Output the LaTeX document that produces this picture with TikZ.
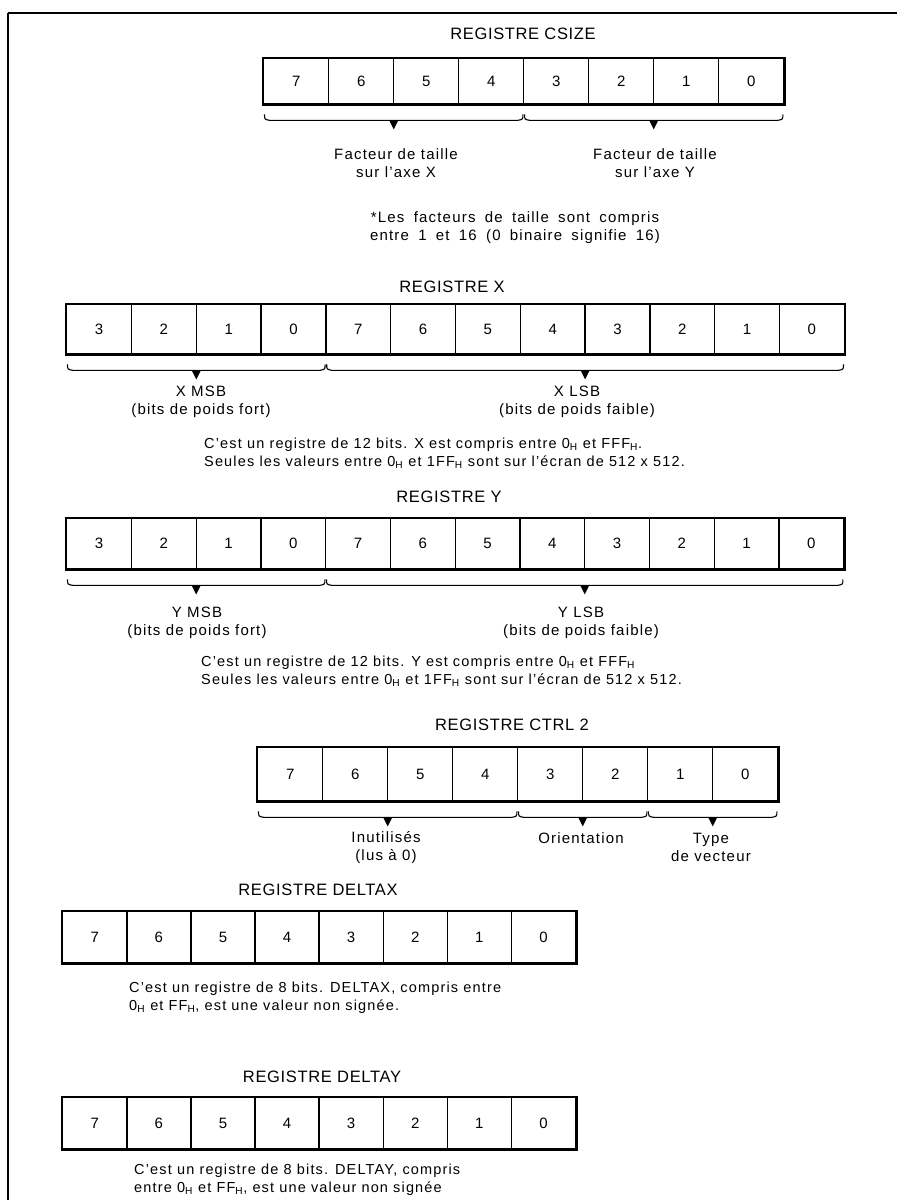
\documentclass[tikz,border=0pt]{standalone}
\usepackage{fontspec}
\setmainfont{Liberation Sans}[LetterSpace=8]
\newfontfamily\titlefont{Liberation Sans}[LetterSpace=4]
\usetikzlibrary{calc}
\newcommand\hx{\textsubscript{H}}
\newcommand\widespaces{\spaceskip=0.62em plus 0.1em\relax}
\newcommand\mkreg[6]{%
  \foreach \v [count=\k from 0] in {#6} {%
    \node[cell, minimum width=#4pt, minimum height=#5pt] (#1\k) at ({#2+\k*#4},{-#3}) {\v};
  }%
}
\newcommand\regbrace[3]{%
  \path ($(#1.south west)!0.5!(#2.south east)$) ++(0,-16) coordinate (#3);
  \draw[brline] ($(#1.south west)+(1.5,-10)$) .. controls ($(#1.south west)+(1.5,-15)$) .. ($(#1.south west)+(7,-16)$)
     -- ($(#2.south east)+(-7,-16)$) .. controls ($(#2.south east)+(-1.5,-15)$) .. ($(#2.south east)+(-1.5,-10)$);
  \fill ($(#3)+(-4.5,0)$) -- ($(#3)+(4.5,0)$) -- ($(#3)+(0,-9)$) -- cycle;
}
\begin{document}
\begin{tikzpicture}[x=1pt,y=1pt,
  cell/.style={draw, line width=1.4pt, inner sep=0pt, anchor=north west, font=\fontsize{15}{18}\selectfont},
  outer/.style={line width=2.8pt},
  brline/.style={line width=1.1pt},
  frame/.style={line width=1.6pt},
  regtitle/.style={font=\titlefont\fontsize{16.5}{19}\selectfont, inner sep=0pt},
  lbl/.style={font=\fontsize{15}{18}\selectfont, align=center, inner sep=0pt},
  note/.style={font=\fontsize{15}{18}\selectfont, align=center, inner sep=0pt},
  para/.style={font=\fontsize{14.5}{18}\selectfont, align=left, anchor=west, inner sep=0pt}]
\useasboundingbox (0,0) rectangle (897,-1200);
% frame
\coordinate (ftl) at (8,-13);
\coordinate (ftr) at (897,-13);
\coordinate (fbl) at (8,-1200);
\draw[frame] (fbl) -- (ftl);
\draw[line width=2.8pt] (ftl) -- (ftr);

% ---------------- CSIZE
\node[regtitle] (tcsize) at (523,-34) {REGISTRE CSIZE};
\mkreg{cs}{263}{58}{65}{45}{7,6,5,4,3,2,1,0}
\draw[outer] (cs0.north west) rectangle (cs7.south east);
\regbrace{cs0}{cs3}{csa}
\regbrace{cs4}{cs7}{csb}
\node[lbl] (lcsa) at (396,-163) {Facteur de taille\\sur l'axe X};
\node[lbl] (lcsb) at (655,-163) {Facteur de taille\\sur l'axe Y};
\node[note] (ncs) at (515,-228) {\widespaces *Les facteurs de taille sont compris\\\widespaces entre 1 et 16 (0 binaire signifie 16)};

% ---------------- X
\node[regtitle] (tx) at (452,-287) {REGISTRE X};
\mkreg{x}{66}{304}{64.8}{49}{3,2,1,0,7,6,5,4,3,2,1,0}
\draw[outer] (x0.north west) rectangle (x11.south east);
\regbrace{x0}{x3}{xa}
\regbrace{x4}{x11}{xb}
\node[lbl] (lxa) at (201,-402) {X MSB\\(bits de poids fort)};
\node[lbl] (lxb) at (577,-402) {X LSB\\(bits de poids faible)};
\node[para] (px) at (204,-453) {C'est un registre de 12 bits. X est compris entre 0\hx{} et FFF\hx.\\Seules les valeurs entre 0\hx{} et 1FF\hx{} sont sur l'écran de 512 x 512.};

% ---------------- Y
\node[regtitle] (ty) at (449,-497) {REGISTRE Y};
\mkreg{y}{66}{518}{64.75}{50}{3,2,1,0,7,6,5,4,3,2,1,0}
\draw[outer] (y0.north west) rectangle (y11.south east);
\regbrace{y0}{y3}{ya}
\regbrace{y4}{y11}{yb}
\node[lbl] (lya) at (197,-623) {Y MSB\\(bits de poids fort)};
\node[lbl] (lyb) at (581,-623) {Y LSB\\(bits de poids faible)};
\node[para] (py) at (201,-671) {C'est un registre de 12 bits. Y est compris entre 0\hx{} et FFF\hx\\Seules les valeurs entre 0\hx{} et 1FF\hx{} sont sur l'écran de 512 x 512.};

% ---------------- CTRL 2
\node[regtitle] (tc) at (512,-725) {REGISTRE CTRL 2};
\mkreg{c}{257}{747}{65}{53}{7,6,5,4,3,2,1,0}
\draw[outer] (c0.north west) rectangle (c7.south east);
\regbrace{c0}{c3}{ca}
\regbrace{c4}{c5}{cb}
\regbrace{c6}{c7}{cc}
\node[lbl] (lca) at (386,-847.5) {Inutilisés\\(lus à 0)};
\node[lbl] (lcb) at (581,-838) {Orientation};
\node[lbl] (lcc) at (711,-847.5) {Type\\de vecteur};

% ---------------- DELTAX
\node[regtitle] (tdx) at (318,-890) {REGISTRE DELTAX};
\mkreg{dx}{62}{911}{64.1}{51}{7,6,5,4,3,2,1,0}
\draw[outer] (dx0.north west) rectangle (dx7.south east);
\node[para] (pdx) at (129,-998) {C'est un registre de 8 bits. DELTAX, compris entre\\0\hx{} et FF\hx, est une valeur non signée.};

% ---------------- DELTAY
\node[regtitle] (tdy) at (322,-1077) {REGISTRE DELTAY};
\mkreg{dy}{62}{1097}{64.1}{51}{7,6,5,4,3,2,1,0}
\draw[outer] (dy0.north west) rectangle (dy7.south east);
\node[para] (pdy) at (134,-1179.5) {C'est un registre de 8 bits. DELTAY, compris\\entre 0\hx{} et FF\hx, est une valeur non signée};
\end{tikzpicture}
\end{document}
